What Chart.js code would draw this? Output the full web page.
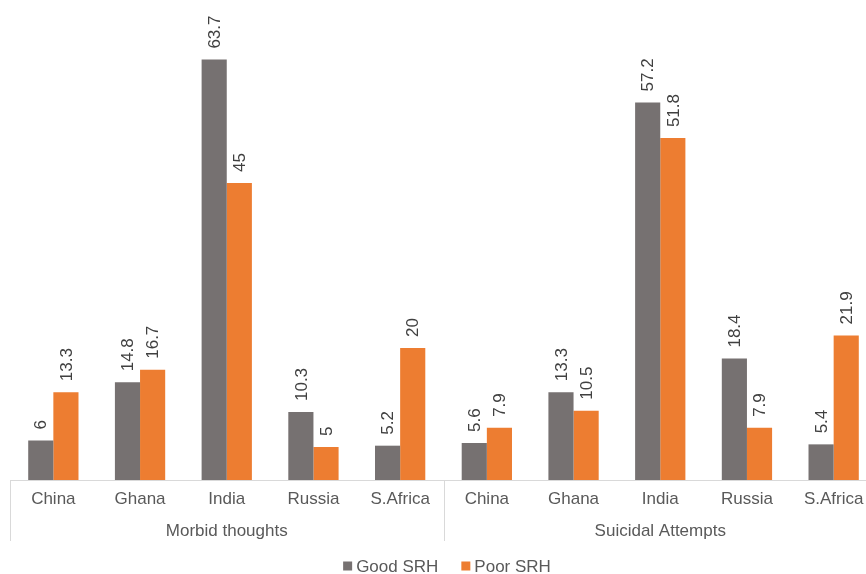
<!DOCTYPE html>
<html>
<head>
<meta charset="utf-8">
<script src="https://cdn.jsdelivr.net/npm/chart.js@4.4.0/dist/chart.umd.min.js"></script>
<style>
  html, body { margin: 0; padding: 0; background: #fff; overflow: hidden; }
  #wrap { width: 877px; height: 574px; }
</style>
</head>
<body>
<div id="wrap"><canvas id="barChart"></canvas></div>
<script>
const countries = ["China", "Ghana", "India", "Russia", "S.Africa", "China", "Ghana", "India", "Russia", "S.Africa"];
const groups = ["Morbid thoughts", "Suicidal Attempts"];
const goodSRH = [6, 14.8, 63.7, 10.3, 5.2, 5.6, 13.3, 57.2, 18.4, 5.4];
const poorSRH = [13.3, 16.7, 45, 5, 20, 7.9, 10.5, 51.8, 7.9, 21.9];

const FONT = "'Liberation Sans', Arial, sans-serif";

// rotated value labels above each bar
const valueLabels = {
  id: "valueLabels",
  afterDatasetsDraw(chart) {
    const ctx = chart.ctx;
    ctx.save();
    ctx.font = "17px " + FONT;
    ctx.fillStyle = "#404040";
    chart.data.datasets.forEach((ds, i) => {
      chart.getDatasetMeta(i).data.forEach((bar, j) => {
        ctx.save();
        ctx.translate(bar.x + 1, bar.y - 11);
        ctx.rotate(-Math.PI / 2);
        ctx.textAlign = "left";
        ctx.textBaseline = "middle";
        ctx.fillText(String(ds.data[j]), 0, 0);
        ctx.restore();
      });
    });
    ctx.restore();
  },
};

// group labels, separators and legend
const extras = {
  id: "extras",
  afterDraw(chart) {
    const ctx = chart.ctx;
    const x = chart.scales.x;
    const area = chart.chartArea;
    const step = x.getPixelForValue(1) - x.getPixelForValue(0);
    ctx.save();
    ctx.strokeStyle = "#d9d9d9";
    ctx.lineWidth = 1;
    [0, 5, 10].forEach((k) => {
      const px = Math.round(x.getPixelForValue(k) - step / 2) + 0.5;
      ctx.beginPath();
      ctx.moveTo(px, area.bottom);
      ctx.lineTo(px, area.bottom + 61);
      ctx.stroke();
    });
    ctx.font = "17px " + FONT;
    ctx.fillStyle = "#595959";
    ctx.textAlign = "center";
    ctx.textBaseline = "middle";
    groups.forEach((g, i) => {
      const cx = (x.getPixelForValue(i * 5) + x.getPixelForValue(i * 5 + 4)) / 2;
      ctx.fillText(g, cx, area.bottom + 51);
    });

    // legend
    const ly = 566;
    const box = 9;
    const items = chart.data.datasets.map((ds) => ({
      label: ds.label,
      color: ds.backgroundColor,
      w: box + 4 + ctx.measureText(ds.label).width,
    }));
    const gap = 23;
    const total = items.reduce((s, it) => s + it.w, 0) + gap * (items.length - 1);
    let lx = 447 - total / 2;
    ctx.textAlign = "left";
    items.forEach((it) => {
      ctx.fillStyle = it.color;
      ctx.fillRect(lx, ly - box / 2, box, box);
      ctx.fillStyle = "#595959";
      ctx.fillText(it.label, lx + box + 4, ly + 1);
      lx += it.w + gap;
    });
    ctx.restore();
  },
};

const ctx = document.getElementById("barChart").getContext("2d");
const barChart = new Chart(ctx, {
  type: "bar",
  data: {
    labels: countries,
    datasets: [
      {
        label: "Good SRH",
        data: goodSRH,
        backgroundColor: "#767171",
        categoryPercentage: 0.58,
        barPercentage: 1.0,
      },
      {
        label: "Poor SRH",
        data: poorSRH,
        backgroundColor: "#ED7D31",
        categoryPercentage: 0.58,
        barPercentage: 1.0,
      },
    ],
  },
  options: {
    responsive: true,
    maintainAspectRatio: false,
    animation: false,
    layout: { padding: { top: 18, left: 10, right: 0, bottom: 0 } },
    plugins: {
      legend: { display: false },
      tooltip: { enabled: false },
    },
    scales: {
      x: {
        grid: { display: false, drawTicks: false },
        border: { display: true, color: "#d9d9d9", width: 1 },
        ticks: {
          color: "#595959",
          font: { size: 17, family: FONT },
          padding: 9,
          maxRotation: 0,
          autoSkip: false,
        },
        afterFit: (scale) => {
          scale.height = 94;
        },
      },
      y: {
        display: false,
        min: 0,
        max: 70,
      },
    },
  },
  plugins: [valueLabels, extras],
});
</script>
</body>
</html>
